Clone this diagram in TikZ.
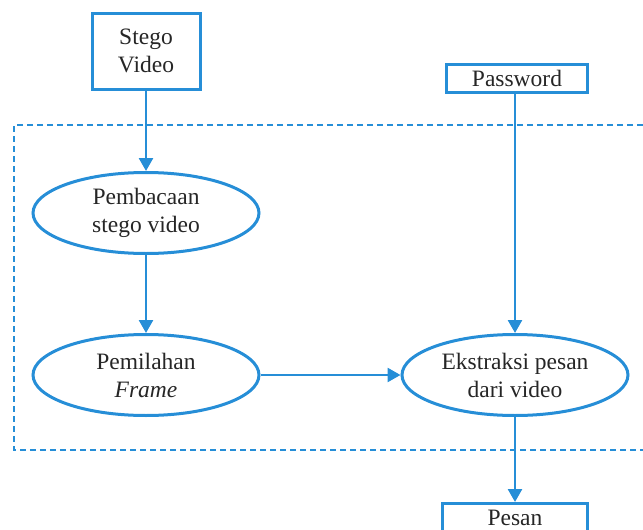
\documentclass[tikz,border=0pt]{standalone}
\usepackage{fontspec}
\setmainfont{Liberation Serif}
\usetikzlibrary{shapes.geometric,arrows.meta}
\definecolor{lineblue}{RGB}{38,142,215}
\begin{document}
\begin{tikzpicture}[x=1pt,y=-1pt,
  every node/.style={font=\fontsize{23.5}{28}\selectfont, text=black!85, align=center, inner sep=0pt},
  rbox/.style={draw=lineblue, line width=3pt, rectangle},
  oval/.style={draw=lineblue, line width=3pt, ellipse, minimum width=226pt, minimum height=81pt},
  conn/.style={draw=lineblue, line width=2.6pt, -{Triangle[length=13pt,width=14pt]}},
  frame/.style={draw=lineblue, line width=1.6pt, dash pattern=on 6pt off 4pt}]
\useasboundingbox (0,0) rectangle (643,530);
\draw[frame] (643,125) -- (14,125) -- (14,450) -- (643,450);
\node[rbox, minimum width=108pt, minimum height=76pt] (sv) at (146,51) {Stego\\Video};
\node[rbox, minimum width=141pt, minimum height=28pt] (pw) at (517,78) {Password};
\node[oval] (baca) at (146,213) {Pembacaan\\stego video};
\node[oval] (pilih) at (146,375) {Pemilahan\\\textit{Frame}};
\node[oval] (ekst) at (515,375) {Ekstraksi pesan\\dari video};
\node[rbox, minimum width=145pt, minimum height=40pt, anchor=north] (ps) at (515,502) {};
\node[anchor=base] (pst) at (515,525) {Pesan};
\draw[conn] (sv.south) -- (baca.north);
\draw[conn] (baca.south) -- (pilih.north);
\draw[conn] (pilih.east) -- (ekst.west);
\draw[conn] (pw.south -| ekst.north) -- (ekst.north);
\draw[conn] (ekst.south) -- (ps.north);
\end{tikzpicture}
\end{document}
